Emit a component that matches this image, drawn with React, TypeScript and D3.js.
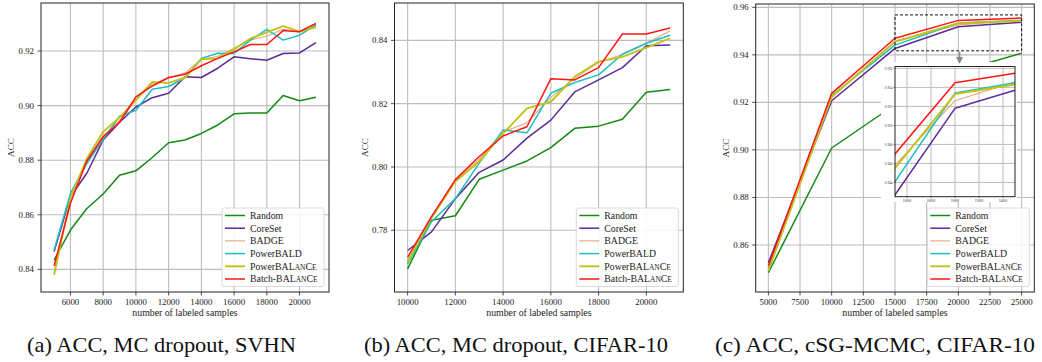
import React from "react";
import * as d3 from "d3";

const LABELS = ["Random", "CoreSet", "BADGE", "PowerBALD", "PowerBALanCe", "Batch-BALanCe"];
const COLORS = ["#138a13", "#5b2a96", "#e3a67c", "#1dbfc0", "#c2c21c", "#ff1414"];
const WIDTHS = [1.5, 1.5, 1.1, 1.5, 1.9, 1.5];

// ---- Panel (a): ACC, MC dropout, SVHN ----
const A_X = [5000, 6000, 7000, 8000, 9000, 10000, 11000, 12000, 13000, 14000, 15000, 16000, 17000, 18000, 19000, 20000, 21000];
const A_RANDOM = [0.8434, 0.8544, 0.8623, 0.8676, 0.8745, 0.8761, 0.881, 0.8864, 0.8874, 0.8898, 0.8929, 0.897, 0.8973, 0.8973, 0.9037, 0.9018, 0.9031];
const A_CORESET = [0.8465, 0.8666, 0.8752, 0.8874, 0.8939, 0.8995, 0.9029, 0.9045, 0.9106, 0.9103, 0.9137, 0.9179, 0.9172, 0.9166, 0.9191, 0.9193, 0.9231];
const A_BADGE = [0.8385, 0.8662, 0.8795, 0.889, 0.8945, 0.902, 0.908, 0.91, 0.912, 0.917, 0.918, 0.921, 0.924, 0.9255, 0.928, 0.927, 0.929];
const A_POWERBALD = [0.8471, 0.8678, 0.8788, 0.8876, 0.8961, 0.8983, 0.906, 0.907, 0.9102, 0.9173, 0.9192, 0.9191, 0.924, 0.9279, 0.924, 0.9258, 0.9295];
const A_POWERBALANCE = [0.838, 0.866, 0.8806, 0.8904, 0.8957, 0.902, 0.9087, 0.9083, 0.9102, 0.917, 0.9173, 0.9206, 0.9246, 0.9268, 0.9291, 0.9271, 0.9287];
const A_BATCH = [0.8412, 0.8642, 0.8797, 0.8886, 0.8939, 0.9032, 0.9072, 0.9103, 0.9115, 0.9146, 0.9173, 0.9197, 0.9224, 0.9224, 0.9275, 0.9271, 0.9301];
const A_RANDOM_SD = [0.0012, 0.0015, 0.0045, 0.003, 0.0012, 0.004, 0.0035, 0.0015, 0.0025, 0.0015, 0.003, 0.0025, 0.0015, 0.0025, 0.0012, 0.0018, 0.0012];
const A_CORESET_SD = [0.0012, 0.002, 0.003, 0.002, 0.0015, 0.0015, 0.002, 0.004, 0.0015, 0.0018, 0.0015, 0.0015, 0.0018, 0.0015, 0.002, 0.0015, 0.0018];
const A_BADGE_SD = [0.0015, 0.0015, 0.0015, 0.0015, 0.0015, 0.0015, 0.0015, 0.003, 0.0015, 0.0015, 0.0015, 0.0015, 0.0015, 0.0015, 0.0015, 0.0015, 0.0015];
const A_POWERBALD_SD = [0.0012, 0.0012, 0.0012, 0.0012, 0.0012, 0.0012, 0.0012, 0.0012, 0.0012, 0.0012, 0.0012, 0.0012, 0.0012, 0.0012, 0.0012, 0.0012, 0.0015];
const A_POWERBALANCE_SD = [0.0012, 0.0012, 0.0015, 0.0012, 0.0012, 0.0015, 0.0012, 0.0015, 0.0012, 0.0012, 0.0012, 0.002, 0.0015, 0.0012, 0.0012, 0.0012, 0.0012];
const A_BATCH_SD = [0.0012, 0.0012, 0.0012, 0.0012, 0.0012, 0.0015, 0.0012, 0.0012, 0.0015, 0.0012, 0.0012, 0.0012, 0.0012, 0.0012, 0.0012, 0.0012, 0.0012];
const A_XTICKS = [6000, 8000, 10000, 12000, 14000, 16000, 18000, 20000];
const A_YTICKS = [0.84, 0.86, 0.88, 0.9, 0.92];

// ---- Panel (b): ACC, MC dropout, CIFAR-10 ----
const B_X = [10000, 11000, 12000, 13000, 14000, 15000, 16000, 17000, 18000, 19000, 20000, 21000];
const B_RANDOM = [0.7678, 0.7832, 0.7846, 0.7961, 0.799, 0.8019, 0.8061, 0.8122, 0.8129, 0.8151, 0.8236, 0.8245];
const B_CORESET = [0.7736, 0.7795, 0.79, 0.7983, 0.8022, 0.8091, 0.8148, 0.8237, 0.8275, 0.8314, 0.8383, 0.8385];
const B_BADGE = [0.7705, 0.7838, 0.7955, 0.8025, 0.811, 0.814, 0.822, 0.828, 0.833, 0.8355, 0.839, 0.843];
const B_POWERBALD = [0.7694, 0.7827, 0.79, 0.8012, 0.8117, 0.8108, 0.8233, 0.8267, 0.8291, 0.8356, 0.8391, 0.8416];
const B_POWERBALANCE = [0.77, 0.784, 0.7954, 0.8017, 0.8106, 0.8185, 0.8206, 0.8285, 0.8333, 0.8348, 0.8377, 0.8406];
const B_BATCH = [0.7715, 0.7843, 0.796, 0.8033, 0.8098, 0.8127, 0.8279, 0.8275, 0.8314, 0.842, 0.842, 0.8439];
const B_RANDOM_SD = [0.002, 0.0015, 0.0015, 0.005, 0.002, 0.005, 0.003, 0.0025, 0.0035, 0.0035, 0.0035, 0.004];
const B_CORESET_SD = [0.0015, 0.002, 0.003, 0.003, 0.003, 0.004, 0.005, 0.002, 0.0025, 0.002, 0.0015, 0.0015];
const B_BADGE_SD = [0.002, 0.002, 0.002, 0.002, 0.003, 0.002, 0.002, 0.002, 0.002, 0.002, 0.002, 0.003];
const B_POWERBALD_SD = [0.002, 0.002, 0.002, 0.002, 0.003, 0.002, 0.002, 0.002, 0.002, 0.002, 0.002, 0.002];
const B_POWERBALANCE_SD = [0.002, 0.002, 0.002, 0.002, 0.003, 0.002, 0.002, 0.004, 0.002, 0.002, 0.002, 0.003];
const B_BATCH_SD = [0.003, 0.003, 0.002, 0.002, 0.002, 0.002, 0.001, 0.002, 0.003, 0.001, 0.001, 0.002];
const B_XTICKS = [10000, 12000, 14000, 16000, 18000, 20000];
const B_YTICKS = [0.78, 0.8, 0.82, 0.84];

// ---- Panel (c): ACC, cSG-MCMC, CIFAR-10 ----
const C_X = [5000, 10000, 15000, 20000, 25000];
const C_RANDOM = [0.8483, 0.9008, 0.919, 0.933, 0.9407];
const C_CORESET = [0.8525, 0.9207, 0.9427, 0.9518, 0.9537];
const C_BADGE = [0.849, 0.922, 0.9458, 0.9526, 0.9546];
const C_POWERBALD = [0.8502, 0.9229, 0.9441, 0.9534, 0.9545];
const C_POWERBALANCE = [0.8492, 0.9224, 0.9455, 0.9533, 0.9543];
const C_BATCH = [0.8512, 0.9238, 0.947, 0.9545, 0.9555];
const C_RANDOM_SD = [0.001, 0.0012, 0.001, 0.001, 0.0008];
const C_CORESET_SD = [0.0015, 0.0008, 0.0004, 0.0005, 0.0008];
const C_BADGE_SD = [0.0012, 0.0008, 0.0012, 0.0008, 0.0006];
const C_POWERBALD_SD = [0.0012, 0.0008, 0.0016, 0.001, 0.0008];
const C_POWERBALANCE_SD = [0.001, 0.0008, 0.0008, 0.0005, 0.0005];
const C_BATCH_SD = [0.001, 0.0008, 0.0006, 0.0006, 0.0005];
const C_XTICKS = [5000, 7500, 10000, 12500, 15000, 17500, 20000, 22500, 25000];
const C_YTICKS = [0.86, 0.88, 0.9, 0.92, 0.94, 0.96];
const INSET_XTICKS = [16000, 18000, 20000, 22000, 24000];
const INSET_YTICKS = [0.944, 0.946, 0.948, 0.95, 0.952, 0.954, 0.956];

const CAPTIONS = ["(a) ACC, MC dropout, SVHN", "(b) ACC, MC dropout, CIFAR-10", "(c) ACC, cSG-MCMC, CIFAR-10"];

const SERIF = '"Liberation Serif", "DejaVu Serif", "Times New Roman", Times, serif';
const FONT = { fontFamily: SERIF };
const GRID = "#bdbdbd";

function Label({ text }: { text: string }) {
  const i = text.indexOf("BALanCe");
  if (i < 0) return <>{text}</>;
  return (
    <>
      {text.slice(0, i) + "BAL"}
      <tspan fontSize="0.76em">AN</tspan>
      {"C"}
      <tspan fontSize="0.76em">E</tspan>
    </>
  );
}

type Box = { l: number; r: number; t: number; b: number };

function Series({ xs, means, sds, x, y, clip }: any) {
  const area = d3
    .area<number>()
    .x((_, i) => x(xs[i]))
    .y0((_, i) => y(means[i] - sds[i]))
    .y1((_, i) => y(means[i] + sds[i]));
  const line = d3
    .line<number>()
    .x((_, i) => x(xs[i]))
    .y((d) => y(d));
  return (
    <g clipPath={`url(#${clip})`}>
      {means.map((m: number[], k: number) => (
        <path key={"a" + k} d={area(m) || ""} fill={COLORS[k]} fillOpacity={0.2} stroke="none" />
      ))}
      {means.map((m: number[], k: number) => (
        <path key={"l" + k} d={line(m) || ""} fill="none" stroke={COLORS[k]} strokeWidth={WIDTHS[k]} strokeLinejoin="round" />
      ))}
    </g>
  );
}

function Panel({ id, box, xs, means, sds, xDomain, yDomain, xTicks, yTicks, caption, capX, capLen, children }: any) {
  const x = d3.scaleLinear().domain(xDomain).range([box.l, box.r]);
  const y = d3.scaleLinear().domain(yDomain).range([box.b, box.t]);
  const fy = d3.format(".2f");
  const lgW = 102;
  const lgH = 78.5;
  const lgL = box.r - 5 - lgW;
  const lgT = box.b - 5.5 - lgH;
  return (
    <g style={FONT}>
      <defs>
        <clipPath id={id}>
          <rect x={box.l} y={box.t} width={box.r - box.l} height={box.b - box.t} />
        </clipPath>
      </defs>
      {xTicks.map((t: number) => (
        <line key={"gx" + t} x1={x(t)} x2={x(t)} y1={box.t} y2={box.b} stroke={GRID} strokeWidth={1.1} />
      ))}
      {yTicks.map((t: number) => (
        <line key={"gy" + t} x1={box.l} x2={box.r} y1={y(t)} y2={y(t)} stroke={GRID} strokeWidth={1.1} />
      ))}
      <Series xs={xs} means={means} sds={sds} x={x} y={y} clip={id} />
      {children ? children(x, y) : null}
      <rect x={box.l} y={box.t} width={box.r - box.l} height={box.b - box.t} fill="none" stroke="#222" strokeWidth={1} />
      {xTicks.map((t: number) => (
        <g key={"tx" + t}>
          <line x1={x(t)} x2={x(t)} y1={box.b} y2={box.b + 3.5} stroke="#222" strokeWidth={0.8} />
          <text x={x(t)} y={box.b + 13} textAnchor="middle" fontSize={8.8} fill="#222" style={FONT}>
            {t}
          </text>
        </g>
      ))}
      {yTicks.map((t: number) => (
        <g key={"ty" + t}>
          <line x1={box.l - 3.5} x2={box.l} y1={y(t)} y2={y(t)} stroke="#222" strokeWidth={0.8} />
          <text x={box.l - 7} y={y(t) + 3} textAnchor="end" fontSize={8.8} fill="#222" style={FONT}>
            {fy(t)}
          </text>
        </g>
      ))}
      <text x={(box.l + box.r) / 2} y={316} textAnchor="middle" fontSize={9.8} fill="#222" style={FONT}>
        number of labeled samples
      </text>
      <text
        transform={`translate(${box.l - 27},${(box.t + box.b) / 2}) rotate(-90)`}
        textAnchor="middle"
        fontSize={9.2}
        fill="#222"
        style={FONT}
      >
        ACC
      </text>
      <g>
        <rect x={lgL} y={lgT} width={lgW} height={lgH} rx={2} fill="#fff" fillOpacity={0.85} stroke="#d0d0d0" strokeWidth={0.8} />
        {LABELS.map((lab, k) => {
          const cy = lgT + 7.5 + k * 12.7;
          return (
            <g key={lab}>
              <line x1={lgL + 3} x2={lgL + 23} y1={cy} y2={cy} stroke={COLORS[k]} strokeWidth={WIDTHS[k]} />
              <text x={lgL + 28} y={cy + 3.3} fontSize={9.8} fill="#222" style={FONT}>
                <Label text={lab} />
              </text>
            </g>
          );
        })}
      </g>
      <text
        x={capX}
        y={352}
        fontSize={21}
        fill="#111"
        textLength={capLen}
        lengthAdjust="spacingAndGlyphs"
        style={FONT}
      >
        {caption}
      </text>
    </g>
  );
}

function Inset({ xs, means, sds }: any) {
  const box: Box = { l: 895, r: 1015, t: 66.5, b: 196.7 };
  const x = d3.scaleLinear().domain([15000, 25000]).range([box.l, box.r]);
  const y = d3.scaleLinear().domain([0.9425, 0.9562]).range([box.b, box.t]);
  const f3 = d3.format(".3f");
  return (
    <g style={FONT}>
      <defs>
        <clipPath id="inset">
          <rect x={box.l} y={box.t} width={box.r - box.l} height={box.b - box.t} />
        </clipPath>
      </defs>
      <rect x={881} y={62} width={136} height={140} fill="#fff" />
      {INSET_XTICKS.map((t) => (
        <line key={"igx" + t} x1={x(t)} x2={x(t)} y1={box.t} y2={box.b} stroke={GRID} strokeWidth={1} />
      ))}
      {INSET_YTICKS.map((t) => (
        <line key={"igy" + t} x1={box.l} x2={box.r} y1={y(t)} y2={y(t)} stroke={GRID} strokeWidth={1} />
      ))}
      <Series xs={xs} means={means} sds={sds} x={x} y={y} clip="inset" />
      <rect x={box.l} y={box.t} width={box.r - box.l} height={box.b - box.t} fill="none" stroke="#222" strokeWidth={1} />
      {INSET_XTICKS.map((t) => (
        <g key={"itx" + t}>
          <line x1={x(t)} x2={x(t)} y1={box.b} y2={box.b + 1.5} stroke="#222" strokeWidth={0.5} />
          <text x={x(t)} y={box.b + 5} textAnchor="middle" fontSize={3.4} fill="#333" style={FONT}>
            {t}
          </text>
        </g>
      ))}
      {INSET_YTICKS.map((t) => (
        <g key={"ity" + t}>
          <line x1={box.l - 1.5} x2={box.l} y1={y(t)} y2={y(t)} stroke="#222" strokeWidth={0.5} />
          <text x={box.l - 2.5} y={y(t) + 1.2} textAnchor="end" fontSize={3.4} fill="#333" style={FONT}>
            {f3(t)}
          </text>
        </g>
      ))}
    </g>
  );
}

export default function App() {
  const aMeans = [A_RANDOM, A_CORESET, A_BADGE, A_POWERBALD, A_POWERBALANCE, A_BATCH];
  const aSds = [A_RANDOM_SD, A_CORESET_SD, A_BADGE_SD, A_POWERBALD_SD, A_POWERBALANCE_SD, A_BATCH_SD];
  const bMeans = [B_RANDOM, B_CORESET, B_BADGE, B_POWERBALD, B_POWERBALANCE, B_BATCH];
  const bSds = [B_RANDOM_SD, B_CORESET_SD, B_BADGE_SD, B_POWERBALD_SD, B_POWERBALANCE_SD, B_BATCH_SD];
  const cMeans = [C_RANDOM, C_CORESET, C_BADGE, C_POWERBALD, C_POWERBALANCE, C_BATCH];
  const cSds = [C_RANDOM_SD, C_CORESET_SD, C_BADGE_SD, C_POWERBALD_SD, C_POWERBALANCE_SD, C_BATCH_SD];
  return (
    <svg
      width={1042}
      height={362}
      viewBox="0 0 1042 362"
      style={{ position: "absolute", left: 0, top: 0, background: "#fff", fontFamily: SERIF }}
    >
      <rect x={0} y={0} width={1042} height={362} fill="#fff" />
      <Panel
        id="pa"
        box={{ l: 41, r: 329, t: 3, b: 292 }}
        xs={A_X}
        means={aMeans}
        sds={aSds}
        xDomain={[4200, 21800]}
        yDomain={[0.8317, 0.9376]}
        xTicks={A_XTICKS}
        yTicks={A_YTICKS}
        caption={CAPTIONS[0]}
        capX={27}
        capLen={269}
      />
      <Panel
        id="pb"
        box={{ l: 394.5, r: 683.3, t: 3, b: 292 }}
        xs={B_X}
        means={bMeans}
        sds={bSds}
        xDomain={[9450, 21550]}
        yDomain={[0.7605, 0.8518]}
        xTicks={B_XTICKS}
        yTicks={B_YTICKS}
        caption={CAPTIONS[1]}
        capX={364}
        capLen={304}
      />
      <Panel
        id="pc"
        box={{ l: 755.7, r: 1034.3, t: 4, b: 292 }}
        xs={C_X}
        means={cMeans}
        sds={cSds}
        xDomain={[4000, 26000]}
        yDomain={[0.8402, 0.9614]}
        xTicks={C_XTICKS}
        yTicks={C_YTICKS}
        caption={CAPTIONS[2]}
        capX={715}
        capLen={320}
      >
        {(x: any, y: any) => (
          <g>
            <rect
              x={x(15000)}
              y={y(0.9568)}
              width={x(25000) - x(15000)}
              height={y(0.9417) - y(0.9568)}
              fill="none"
              stroke="#111"
              strokeWidth={1}
              strokeDasharray="3,2"
            />
            <Inset xs={C_X} means={cMeans} sds={cSds} />
            <line x1={x(20100)} x2={x(20100)} y1={y(0.9417) + 1} y2={58} stroke="#888" strokeWidth={1.5} />
            <path
              d={`M${x(20100) - 3.5},${57} L${x(20100) + 3.5},${57} L${x(20100)},${64} Z`}
              fill="#888"
            />
          </g>
        )}
      </Panel>
    </svg>
  );
}
